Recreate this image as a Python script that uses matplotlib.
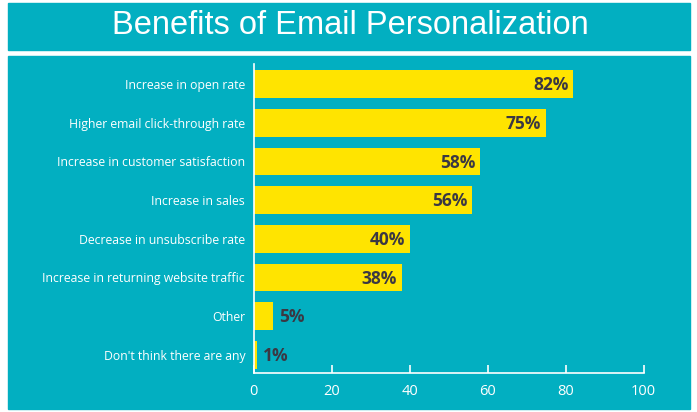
import matplotlib.pyplot as plt
from matplotlib.patches import Rectangle

categories = [
    "Increase in open rate",
    "Higher email click-through rate",
    "Increase in customer satisfaction",
    "Increase in sales",
    "Decrease in unsubscribe rate",
    "Increase in returning website traffic",
    "Other",
    "Don't think there are any",
]
values = [82, 75, 58, 56, 40, 38, 5, 1]
xticks = [0, 20, 40, 60, 80, 100]

teal = "#02AFC1"
yellow = "#FFE400"
dark = "#3b3843"

fig = plt.figure(figsize=(6.97, 4.12), dpi=100)
fig.patch.set_facecolor("white")
W, H = 697, 412

# title band and chart panel (behind the axes)
fig.patches.append(Rectangle((8 / W, 1 - 50 / H), 682 / W, 47 / H,
                             transform=fig.transFigure, color=teal, zorder=-10))
fig.patches.append(Rectangle((8 / W, 1 - 409 / H), 682 / W, 353 / H,
                             transform=fig.transFigure, color=teal, zorder=-10))
fig.text(350 / W, 1 - 26 / H, "Benefits of Email Personalization",
         ha="center", va="center", color="white", fontsize=23.5,
         family="Liberation Sans")

ax = fig.add_axes([253.5 / W, 1 - 373 / H, 390 / W, 309 / H])
ax.set_facecolor("none")

ypos = list(range(len(categories)))
ax.barh(ypos, values, height=0.71, color=yellow, zorder=2)
ax.set_xlim(0, 100)
ax.set_ylim(7.47, -0.52)

for y, v in zip(ypos, values):
    if v > 20:
        ax.text(v - 1.2, y + 0.03, f"{v}%", ha="right", va="center",
                color=dark, fontsize=12.5, fontweight="bold", family="Open Sans")
    else:
        ax.text(v + 1.5, y + 0.03, f"{v}%", ha="left", va="center",
                color=dark, fontsize=12.5, fontweight="bold", family="Open Sans")

ax.set_yticks(ypos)
ax.set_yticklabels(categories, color="white", fontsize=8.8, family="Open Sans")
ax.tick_params(axis="y", length=0, pad=6)
ax.set_xticks(xticks)
ax.set_xticklabels([str(t) for t in xticks], color="white", fontsize=10.5,
                   family="Open Sans")
ax.tick_params(axis="x", direction="in", length=6, width=1.2, colors="white", pad=8)

for side in ["top", "right"]:
    ax.spines[side].set_visible(False)
for side in ["left", "bottom"]:
    ax.spines[side].set_color("white")
    ax.spines[side].set_linewidth(1.2)

fig.savefig("out.png", dpi=100, facecolor="white")
